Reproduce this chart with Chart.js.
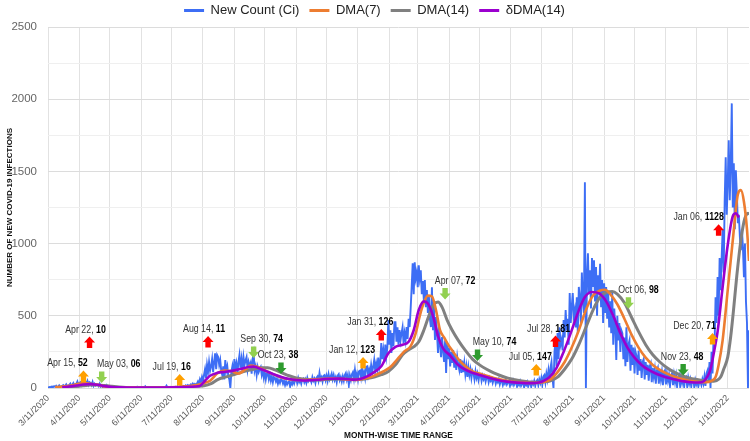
<!DOCTYPE html>
<html>
<head>
<meta charset="utf-8">
<script src="https://cdn.jsdelivr.net/npm/chart.js@4.4.1/dist/chart.umd.min.js"></script>
<style>
html,body{margin:0;padding:0;background:#ffffff;}
#wrap{width:750px;height:441px;position:relative;}
</style>
</head>
<body>
<div id="wrap"><canvas id="c" width="750" height="441"></canvas></div>
<script>
// ---------- DATA (day 0 = 3/11/2020) ----------
const monthTickDays = [0,31,61,92,122,153,184,214,245,275,306,337,365,396,426,457,487,518,549,579,610,640,671];
const monthTickLabels = ['3/11/2020','4/11/2020','5/11/2020','6/11/2020','7/11/2020','8/11/2020','9/11/2020','10/11/2020','11/11/2020','12/11/2020','1/11/2021','2/11/2021','3/11/2021','4/11/2021','5/11/2021','6/11/2021','7/11/2021','8/11/2021','9/11/2021','10/11/2021','11/11/2021','12/11/2021','1/11/2022'];
const lastDay = 692;

// daily new count (Ci), day 0 .. 692
const newCount = [
3,5,8,2,10,6,12, 8,15,4,10,18,7,12, 14,20,9,16,25,10,18, 22,30,12,25,35,15,28,
30,45,18,35,40,20,38, 52,30,45,25,48,22,40, 35,20,42,15,30,18,25, 22,12,30,10,18,6,15,
12,5,18,4,10,3,8, 6,2,8,1,5,2,4, 3,1,5,0,2,4,1, 2,6,0,3,1,2,5,
1,3,0,2,8,1,2, 4,0,2,1,3,12,2, 1,3,2,0,4,2,1, 3,1,5,2,0,3,6,
2,4,1,6,3,16,4, 5,3,8,2,6,4,7, 8,5,12,6,10,16,9, 10,14,8,18,12,20,15,
18,25,12,30,20,28,22, 30,45,25,60,40,75,50, 90,130,70,160,110,180,120, 150,200,110,180,240,130,228,
214,160,194,120,90,150,60, 194,120,150,80,60,0,110, 150,90,200,130,170,100,180, 228,140,200,120,214,160,190,
214,130,180,150,173,100,200, 240,120,150,90,145,110,130, 145,90,120,70,110,60,100, 104,60,90,50,80,40,75,
70,45,65,30,55,35,60, 55,30,50,20,45,25,40, 45,10,40,25,50,30,55, 60,35,69,40,55,30,60,
65,40,60,35,70,45,55, 60,40,75,50,65,35,70, 80,50,104,60,75,45,85, 90,55,85,50,95,60,80,
100,60,90,55,75,40,85, 95,55,76,45,80,50,90, 104,60,90,20,85,55,95, 110,65,125,70,100,60,115,
120,75,138,80,110,70,145, 150,90,130,100,160,110,145, 194,120,170,130,210,140,180, 311,200,260,180,300,220,280,
470,300,400,242,380,290,456, 456,320,420,300,401,330,380, 420,310,380,330,422,340,480, 422,550,700,864,650,871,760,
800,698,850,760,816,650,740, 609,747,560,678,520,640,480, 422,698,400,560,332,491,380, 242,422,300,214,353,260,180,
330,104,311,200,280,150,250, 173,263,140,230,125,214,160, 125,200,104,190,110,173,95, 150,76,145,90,130,70,120,
104,60,115,70,100,55,90, 95,50,85,60,80,45,75, 80,40,70,50,65,35,60, 65,30,55,40,60,25,50,
50,20,45,30,55,25,40, 45,15,40,25,50,20,35, 40,10,35,20,45,15,30, 35,5,30,20,40,10,30,
38,8,40,25,50,15,45, 55,20,60,35,70,25,80, 90,40,100,60,120,50,140, 180,70,0,250,332,150,380,
200,420,300,332,260,470,350, 540,400,480,300,657,450,560, 657,500,540,420,629,380,700, 629,450,800,600,520,1425,0,
768,933,650,816,550,900,700, 885,600,837,500,780,650,860, 560,747,450,726,519,700,480, 657,420,600,380,657,300,550,
422,194,500,330,450,250,400, 380,200,350,150,420,180,300, 330,120,300,160,280,100,250, 220,90,260,120,200,70,180,
200,60,180,90,160,50,150, 170,40,140,80,130,30,120, 140,30,120,60,110,20,100, 120,25,100,50,90,15,80,
100,20,90,40,85,10,75, 90,15,80,35,70,10,65, 75,10,70,30,60,10,55, 60,5,55,25,45,10,40,
45,20,60,30,80,15,100, 120,40,180,0,250,100,350, 300,629,450,768,500,900,678, 900,1100,800,1300,1598,1200,1418,
1715,1300,1550,1971,1250,1556,1100, 1508,1349,1141,1200,1044,954,1100, 975,768,1000,600,450,0,400
];

// DMA(7)
const dma7Days = [7,14,21,28,35,42,49,56,63,70,84,98,112,126,133,140,147,154,160,167,174,181,188,195,200,205,212,219,226,233,240,247,254,261,268,275,282,289,296,303,310,317,324,331,338,345,352,358,363,367,371,375,379,383,387,391,395,400,405,412,419,426,433,440,447,454,461,468,475,482,489,496,503,510,517,524,531,538,545,550,555,562,569,576,583,590,597,604,611,618,625,632,639,646,652,655,659,662,666,671,676,681,684,687,690,692];
const dma7 = [6,10,15,25,34,30,22,10,5,3,4,3,4,6,10,14,20,35,50,100,120,118,100,130,155,150,130,105,85,68,58,55,55,58,62,64,66,62,58,55,62,72,92,115,145,200,255,290,380,500,590,640,635,540,400,350,300,250,200,150,115,100,85,70,58,48,42,38,35,35,42,60,110,180,280,400,540,640,675,680,650,580,480,370,280,210,160,125,100,80,65,52,44,40,42,50,76,160,332,678,1024,1340,1370,1290,1100,880];

// DMA(14)
const dma14Days = [14,21,28,35,42,49,56,63,70,77,91,105,119,133,140,147,154,161,168,175,182,189,196,203,210,217,224,231,238,245,252,259,266,273,280,287,294,301,308,315,322,329,336,343,350,356,361,366,371,376,381,385,389,394,399,405,412,419,426,433,440,447,454,461,468,475,482,489,496,503,510,517,524,531,538,545,552,557,562,569,576,583,590,597,604,611,618,625,632,639,646,653,660,664,667,671,674,677,680,684,687,689,691,692];
const dma14 = [3,6,10,15,20,20,17,12,7,4,3,3,3,5,8,12,15,30,60,75,90,105,120,130,140,140,125,105,85,70,62,57,56,58,61,63,62,60,60,66,76,92,115,160,230,265,285,320,400,500,580,595,560,470,400,330,260,200,160,130,105,85,68,57,48,42,40,42,50,75,130,200,300,420,540,630,665,668,650,590,490,390,300,230,180,140,110,88,72,60,52,46,52,76,130,214,360,560,780,1024,1150,1196,1210,1200];

// δDMA(14)
const ddma14Days = [14,21,28,35,42,49,56,63,70,84,98,112,126,133,140,145,150,155,160,167,175,184,191,198,203,210,217,224,231,238,245,252,259,266,273,280,287,294,301,308,315,322,329,336,343,350,356,361,366,371,375,380,385,390,397,404,411,418,425,432,439,446,453,460,467,474,481,488,495,502,509,516,523,530,537,544,551,558,565,572,579,586,593,600,607,614,621,628,635,642,647,651,654,658,661,666,671,676,679,682];
const ddma14 = [5,10,17,24,27,22,13,7,4,3,3,3,4,6,8,10,15,50,85,105,112,122,133,145,148,132,112,92,75,62,55,52,54,57,62,64,65,62,58,62,80,110,150,240,285,300,320,400,540,600,585,500,360,275,225,165,130,108,92,78,64,52,44,39,36,34,35,45,75,140,250,380,520,630,665,655,600,500,380,280,210,160,125,100,82,68,56,46,40,38,45,80,130,270,390,700,990,1190,1210,1180];

// annotations (arrow date, arrow level, text)
const annoDays   = [35,41,53,130,158,203,230,311,329,392,424,482,501,573,627,656,662];
const annoLevels = [80,315,76,55,318,249,138,173,367,654,228,124,322,591,128,339,1093];
const annoDates  = ['Apr 15','Apr 22','May 03','Jul 19','Aug 14','Sep 30','Oct 23','Jan 12','Jan 31','Apr 07','May 10','Jul 05','Jul 28','Oct 06','Nov 23','Dec 20','Jan 06'];
const annoNums   = ['52','10','06','16','11','74','38','123','126','72','74','147','181','98','48','71','1128'];
const annoKinds  = ['upO','upR','dnL','upO','upR','dnL','dnD','upO','upR','dnL','dnD','upO','upR','dnL','dnD','upO','upR'];
const annoShift  = [-16,-4,17,-8,-4,8,-3,-11,-11,10,17,-6,-7,10,-1,-18,-20];

// ---------- STYLE ----------
const SANS = "'Liberation Sans',Arial,sans-serif";
const arrowColors = {upO:'#FFA000', upR:'#FF0000', dnL:'#92D050', dnD:'#2E9B2E'};

const pts = (xs, ys) => xs.map((x,i)=>({x:x, y:ys[i]}));

const annotationPlugin = {
  id:'arrows',
  afterDatasetsDraw(chart){
    const ctx = chart.ctx, xs = chart.scales.x, ys = chart.scales.y;
    const squeeze = 0.8;
    ctx.save();
    annoDays.forEach((d,i)=>{
      const x = xs.getPixelForValue(d), y = ys.getPixelForValue(annoLevels[i]);
      const kind = annoKinds[i];
      const up = kind.startsWith('up');
      ctx.fillStyle = arrowColors[kind];
      ctx.beginPath();
      if(up){
        ctx.moveTo(x, y-6); ctx.lineTo(x+5.5, y); ctx.lineTo(x+2.7, y); ctx.lineTo(x+2.7, y+5.5);
        ctx.lineTo(x-2.7, y+5.5); ctx.lineTo(x-2.7, y); ctx.lineTo(x-5.5, y); ctx.closePath();
      } else {
        ctx.moveTo(x, y+6); ctx.lineTo(x+5.5, y); ctx.lineTo(x+2.7, y); ctx.lineTo(x+2.7, y-5.5);
        ctx.lineTo(x-2.7, y-5.5); ctx.lineTo(x-2.7, y); ctx.lineTo(x-5.5, y); ctx.closePath();
      }
      ctx.fill();
      const t1 = annoDates[i] + ', ', t2 = annoNums[i];
      ctx.font = '11px ' + SANS;
      const w1 = ctx.measureText(t1).width;
      ctx.font = 'bold 11px ' + SANS;
      const w2 = ctx.measureText(t2).width;
      const total = (w1 + w2) * squeeze;
      const sx = x + annoShift[i] - total/2, ty = y - 13;
      ctx.save();
      ctx.translate(sx, ty);
      ctx.scale(squeeze, 1);
      ctx.textBaseline = 'middle'; ctx.textAlign = 'left';
      ctx.font = '11px ' + SANS; ctx.fillStyle = '#333333';
      ctx.fillText(t1, 0, 0);
      ctx.font = 'bold 11px ' + SANS; ctx.fillStyle = '#000000';
      ctx.fillText(t2, w1, 0);
      ctx.restore();
    });
    ctx.restore();
  }
};

new Chart(document.getElementById('c'), {
  type:'line',
  data:{
    datasets:[
      {label:'New Count (Ci)', data: newCount.map((v,i)=>({x:i,y:v})), borderColor:'#3D6EF5', backgroundColor:'#3D6EF5', borderWidth:1.9, pointRadius:0, tension:0, order:4},
      {label:'DMA(7)', data: pts(dma7Days, dma7), borderColor:'#ED7D31', backgroundColor:'#ED7D31', borderWidth:2.6, pointRadius:0, cubicInterpolationMode:'monotone', order:2},
      {label:'DMA(14)', data: pts(dma14Days, dma14), borderColor:'#808080', backgroundColor:'#808080', borderWidth:3, pointRadius:0, cubicInterpolationMode:'monotone', order:3},
      {label:'\u03B4DMA(14)', data: pts(ddma14Days, ddma14), borderColor:'#9B00CF', backgroundColor:'#9B00CF', borderWidth:2.6, pointRadius:0, cubicInterpolationMode:'monotone', order:1}
    ]
  },
  options:{
    responsive:false, animation:false, devicePixelRatio:1,
    layout:{padding:{top:-6, right:1, left:0, bottom:0}},
    plugins:{
      tooltip:{enabled:false},
      legend:{
        position:'top',
        labels:{
          boxWidth:20, boxHeight:3, padding:10, color:'#222222',
          font:{family:SANS, size:13},
          sort:(a,b)=>a.datasetIndex-b.datasetIndex,
          generateLabels(chart){
            const items = Chart.defaults.plugins.legend.labels.generateLabels(chart);
            items.forEach(it=>{ const c = chart.data.datasets[it.datasetIndex].borderColor; it.fillStyle=c; it.strokeStyle=c; it.lineWidth=0; });
            return items;
          }
        }
      }
    },
    scales:{
      x:{
        type:'linear', min:0, max:lastDay,
        afterBuildTicks(s){ s.ticks = monthTickDays.map(v=>({value:v})); },
        afterFit(s){ s.height = 53; },
        ticks:{autoSkip:false, minRotation:45, maxRotation:45, padding:5, color:'#595959',
          font:{family:SANS, size:9},
          callback:(v)=>{ const k = monthTickDays.indexOf(v); return k>=0 ? monthTickLabels[k] : ''; }},
        grid:{color:'#e2e2e2', drawTicks:false},
        border:{display:false},
        title:{display:true, text:'MONTH-WISE TIME RANGE', color:'#111111', font:{family:SANS, size:8.3, weight:'bold'}, padding:{top:0,bottom:0}}
      },
      y:{
        type:'linear', min:0, max:2500,
        afterFit(s){ s.width = 48; },
        ticks:{stepSize:250, padding:11, color:'#666666', font:{family:SANS, size:11.5},
          callback:(v)=> (v % 500 === 0 ? String(v) : '')},
        grid:{drawTicks:false, color:(c)=> (c.tick && c.tick.value % 500 === 0 ? '#dcdcdc' : '#efefef')},
        border:{display:false},
        title:{display:true, text:'NUMBER OF NEW COVID-19 INFECTIONS', color:'#111111', font:{family:SANS, size:8, weight:'bold'}, padding:{top:5,bottom:0}}
      }
    }
  },
  plugins:[annotationPlugin]
});
</script>
</body>
</html>
